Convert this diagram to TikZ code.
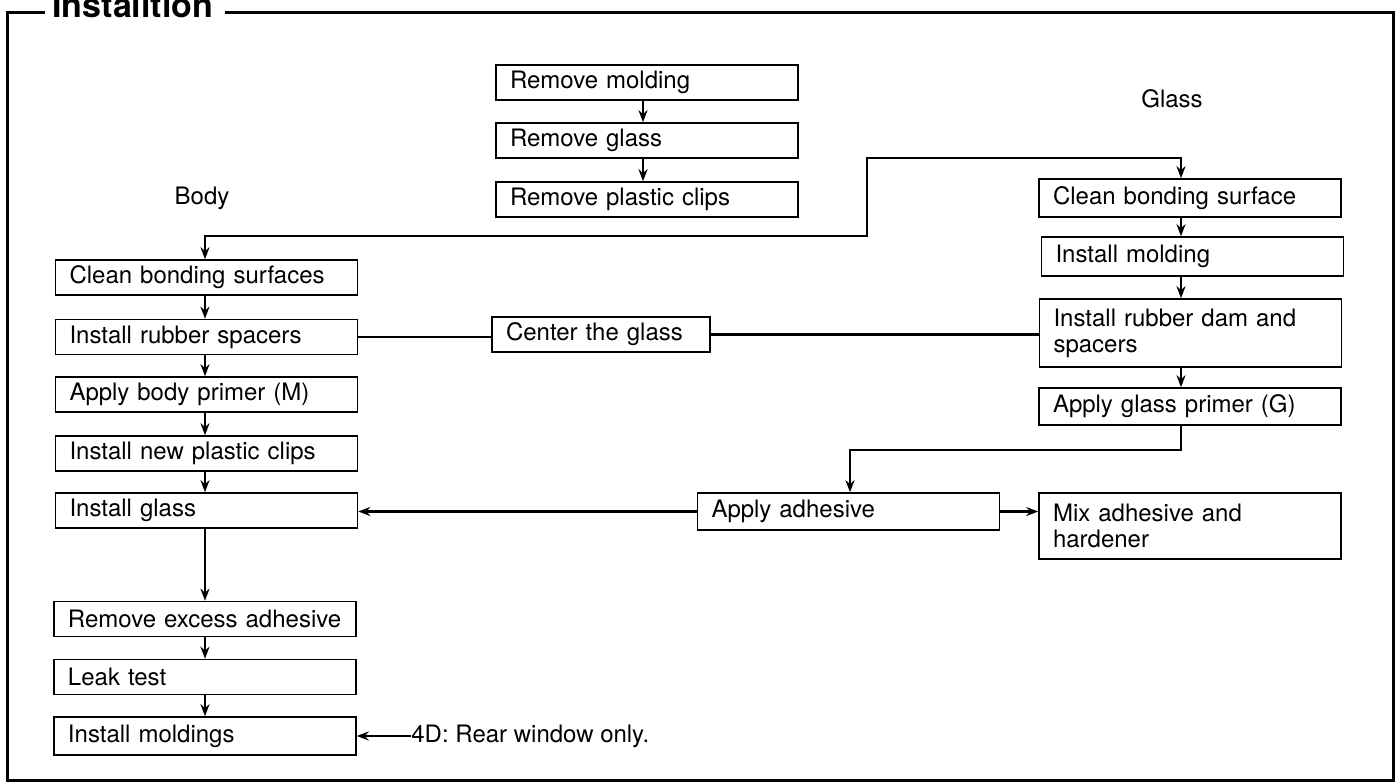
\documentclass[tikz,border=0pt]{standalone}
\usepackage{fontspec}
\setmainfont{TeX Gyre Heros}
\usetikzlibrary{arrows.meta}

\tikzset{
    stepbox/.style={draw, line width=0.8pt, inner xsep=7pt, inner ysep=0pt,
        text width=137pt, minimum height=17.5pt, align=left,
        font=\fontsize{12}{13}\selectfont},
    flow/.style={line width=1.2pt, -{Stealth[length=6pt,width=4.5pt]}},
    link/.style={line width=1.2pt},
    lbl/.style={font=\fontsize{12}{13}\selectfont}
}

\begin{document}
\begin{tikzpicture}[x=0.5pt, y=-0.5pt]
    \useasboundingbox (0,0) rectangle (1398,782);

    % frame and title
    \draw[line width=1.5pt] (45,12) -- (7,12) -- (7,780) -- (1393,780) -- (1393,12) -- (225,12);
    \node[anchor=base west, inner sep=0pt, font=\fontsize{17}{17}\selectfont\bfseries] (title) at (52,17) {Installtion};

    % removal
    \node[stepbox] (rmold) at (647,82.5) {Remove molding};
    \node[stepbox] (rglass) at (647,140.5) {Remove glass};
    \node[stepbox] (rclips) at (647,199.5) {Remove plastic clips};
    \coordinate (tx) at (643,0);
    \draw[flow] (rmold.south -| tx) -- (rglass.north -| tx);
    \draw[flow] (rglass.south -| tx) -- (rclips.north -| tx);

    % body side
    \node[lbl] (body) at (202,198) {Body};
    \node[stepbox] (bclean) at (206.5,277.5) {Clean bonding surfaces};
    \node[stepbox] (bspacer) at (206.5,337) {Install rubber spacers};
    \node[stepbox] (bprimer) at (206.5,394.5) {Apply body primer (M)};
    \node[stepbox] (bclips) at (206.5,453.5) {Install new plastic clips};
    \node[stepbox] (bglass) at (206.5,510.5) {Install glass};
    \node[stepbox] (bexcess) at (205,619) {Remove excess adhesive};
    \node[stepbox] (bleak) at (205,677) {Leak test};
    \node[stepbox, minimum height=19pt] (bmoldings) at (205,736) {Install moldings};
    \coordinate (bx) at (205,0);
    \draw[flow] (bclean.south -| bx) -- (bspacer.north -| bx);
    \draw[flow] (bspacer.south -| bx) -- (bprimer.north -| bx);
    \draw[flow] (bprimer.south -| bx) -- (bclips.north -| bx);
    \draw[flow] (bclips.south -| bx) -- (bglass.north -| bx);
    \draw[flow] (bglass.south -| bx) -- (bexcess.north -| bx);
    \draw[flow] (bexcess.south -| bx) -- (bleak.north -| bx);
    \draw[flow] (bleak.south -| bx) -- (bmoldings.north -| bx);

    \node[lbl, anchor=west, inner sep=0pt] (note) at (411,736) {4D: Rear window only.};
    \draw[flow] (note.west) -- (note.west -| bmoldings.east);

    % glass side
    \node[lbl] (glass) at (1172,99) {Glass};
    \node[stepbox, minimum height=19pt] (gclean) at (1190,198) {Clean bonding surface};
    \node[stepbox, minimum height=19.5pt] (gmold) at (1192.5,256.5) {Install molding};
    \node[stepbox, minimum height=34pt] (gdam) at (1190.5,333) {Install rubber dam and\\spacers};
    \node[stepbox, minimum height=18.5pt] (gprimer) at (1190,406.5) {Apply glass primer (G)};
    \coordinate (gx) at (1181,0);
    \draw[flow] (gclean.south -| gx) -- (gmold.north -| gx);
    \draw[flow] (gmold.south -| gx) -- (gdam.north -| gx);
    \draw[flow] (gdam.south -| gx) -- (gprimer.north -| gx);

    % both sides start together
    \coordinate (j1) at (867,158);
    \coordinate (j2) at (867,236);
    \draw[link, {Stealth[length=6pt,width=4.5pt]}-{Stealth[length=6pt,width=4.5pt]}]
        (gclean.north -| gx) |- (j1) -- (j2) -| (bclean.north -| bx);

    % centering
    \node[stepbox, text width=95pt] (center) at (601,334.5) {Center the glass};
    \draw[link] (bspacer.east) -- (bspacer.east -| center.west);
    \draw[link] (center.east) -- (center.east -| gdam.west);

    % adhesive
    \node[stepbox, minimum height=18.5pt] (adhesive) at (848.5,511.5) {Apply adhesive};
    \node[stepbox, minimum height=33pt] (mix) at (1190,526) {Mix adhesive and\\hardener};
    \coordinate (j3) at (850,450);
    \draw[flow] (gprimer.south -| gx) |- (j3) -- (j3 |- adhesive.north);
    \draw[flow] (adhesive.west) -- (adhesive.west -| bglass.east);
    \draw[flow] (adhesive.east) -- (adhesive.east -| mix.west);

\end{tikzpicture}
\end{document}
